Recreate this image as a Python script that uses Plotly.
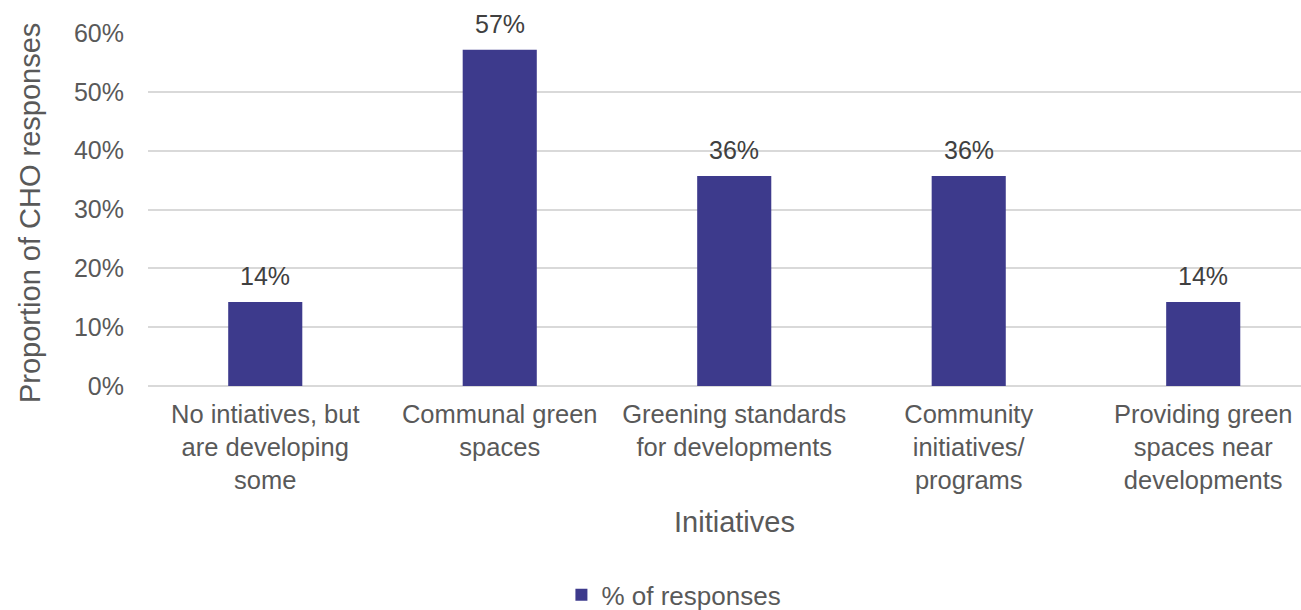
import plotly.graph_objects as go

categories = [
    "No intiatives, but<br>are developing<br>some",
    "Communal green<br>spaces",
    "Greening standards<br>for developments",
    "Community<br>initiatives/<br>programs",
    "Providing green<br>spaces near<br>developments",
]
values = [0.1429, 0.5714, 0.3571, 0.3571, 0.1429]
labels = ["14%", "57%", "36%", "36%", "14%"]
series_name = "% of responses"
y_ticks = [0, 0.1, 0.2, 0.3, 0.4, 0.5, 0.6]
x_title = "Initiatives"
y_title = "Proportion of CHO responses"

FONT = "Liberation Sans, Arial, sans-serif"
GREY = "#595959"

fig = go.Figure()
fig.add_trace(go.Bar(
    x=categories, y=values, name=series_name,
    marker=dict(color="#3D3A8C", line=dict(width=0)),
))

for c, v, t in zip(categories, values, labels):
    fig.add_annotation(x=c, y=v, text=t, showarrow=False, yanchor="bottom",
                       yshift=10, font=dict(family=FONT, size=25, color="#404040"))

fig.add_annotation(xref="paper", yref="paper", x=(30 - 148) / 1153, y=0.49,
                   text=y_title, textangle=-90, showarrow=False,
                   xanchor="center", yanchor="middle",
                   font=dict(family=FONT, size=29, color=GREY))
fig.add_annotation(xref="paper", yref="paper", x=(734 - 148) / 1153, y=-0.384,
                   text=x_title, showarrow=False,
                   xanchor="center", yanchor="middle",
                   font=dict(family=FONT, size=29, color=GREY))

fig.update_layout(
    width=1301, height=610,
    margin=dict(l=148, r=0, t=33, b=224),
    paper_bgcolor="white", plot_bgcolor="white",
    font=dict(family=FONT, size=25, color=GREY),
    bargap=0.684,
    showlegend=True,
    legend=dict(orientation="h", x=0.518, xanchor="center", xref="container",
                y=0.025, yanchor="middle", yref="container",
                font=dict(size=26, color=GREY)),
    xaxis=dict(range=[-0.5, 4.417], showgrid=False, showline=False, automargin=False,
               tickfont=dict(size=25.5, color=GREY), ticks="", ticklabelstandoff=10),
    yaxis=dict(range=[0, 0.6], tickvals=y_ticks, tickformat=".0%", automargin=False,
               showgrid=True, gridcolor="#D9D9D9", gridwidth=2,
               zeroline=True, zerolinecolor="#D9D9D9", zerolinewidth=2,
               showline=False, ticks="", ticklabelstandoff=23,
               tickfont=dict(size=25, color=GREY)),
)

fig.write_html(
    "out.html",
    config={"displayModeBar": False},
    post_script="document.body.style.margin='0';document.body.style.overflow='hidden';",
)
